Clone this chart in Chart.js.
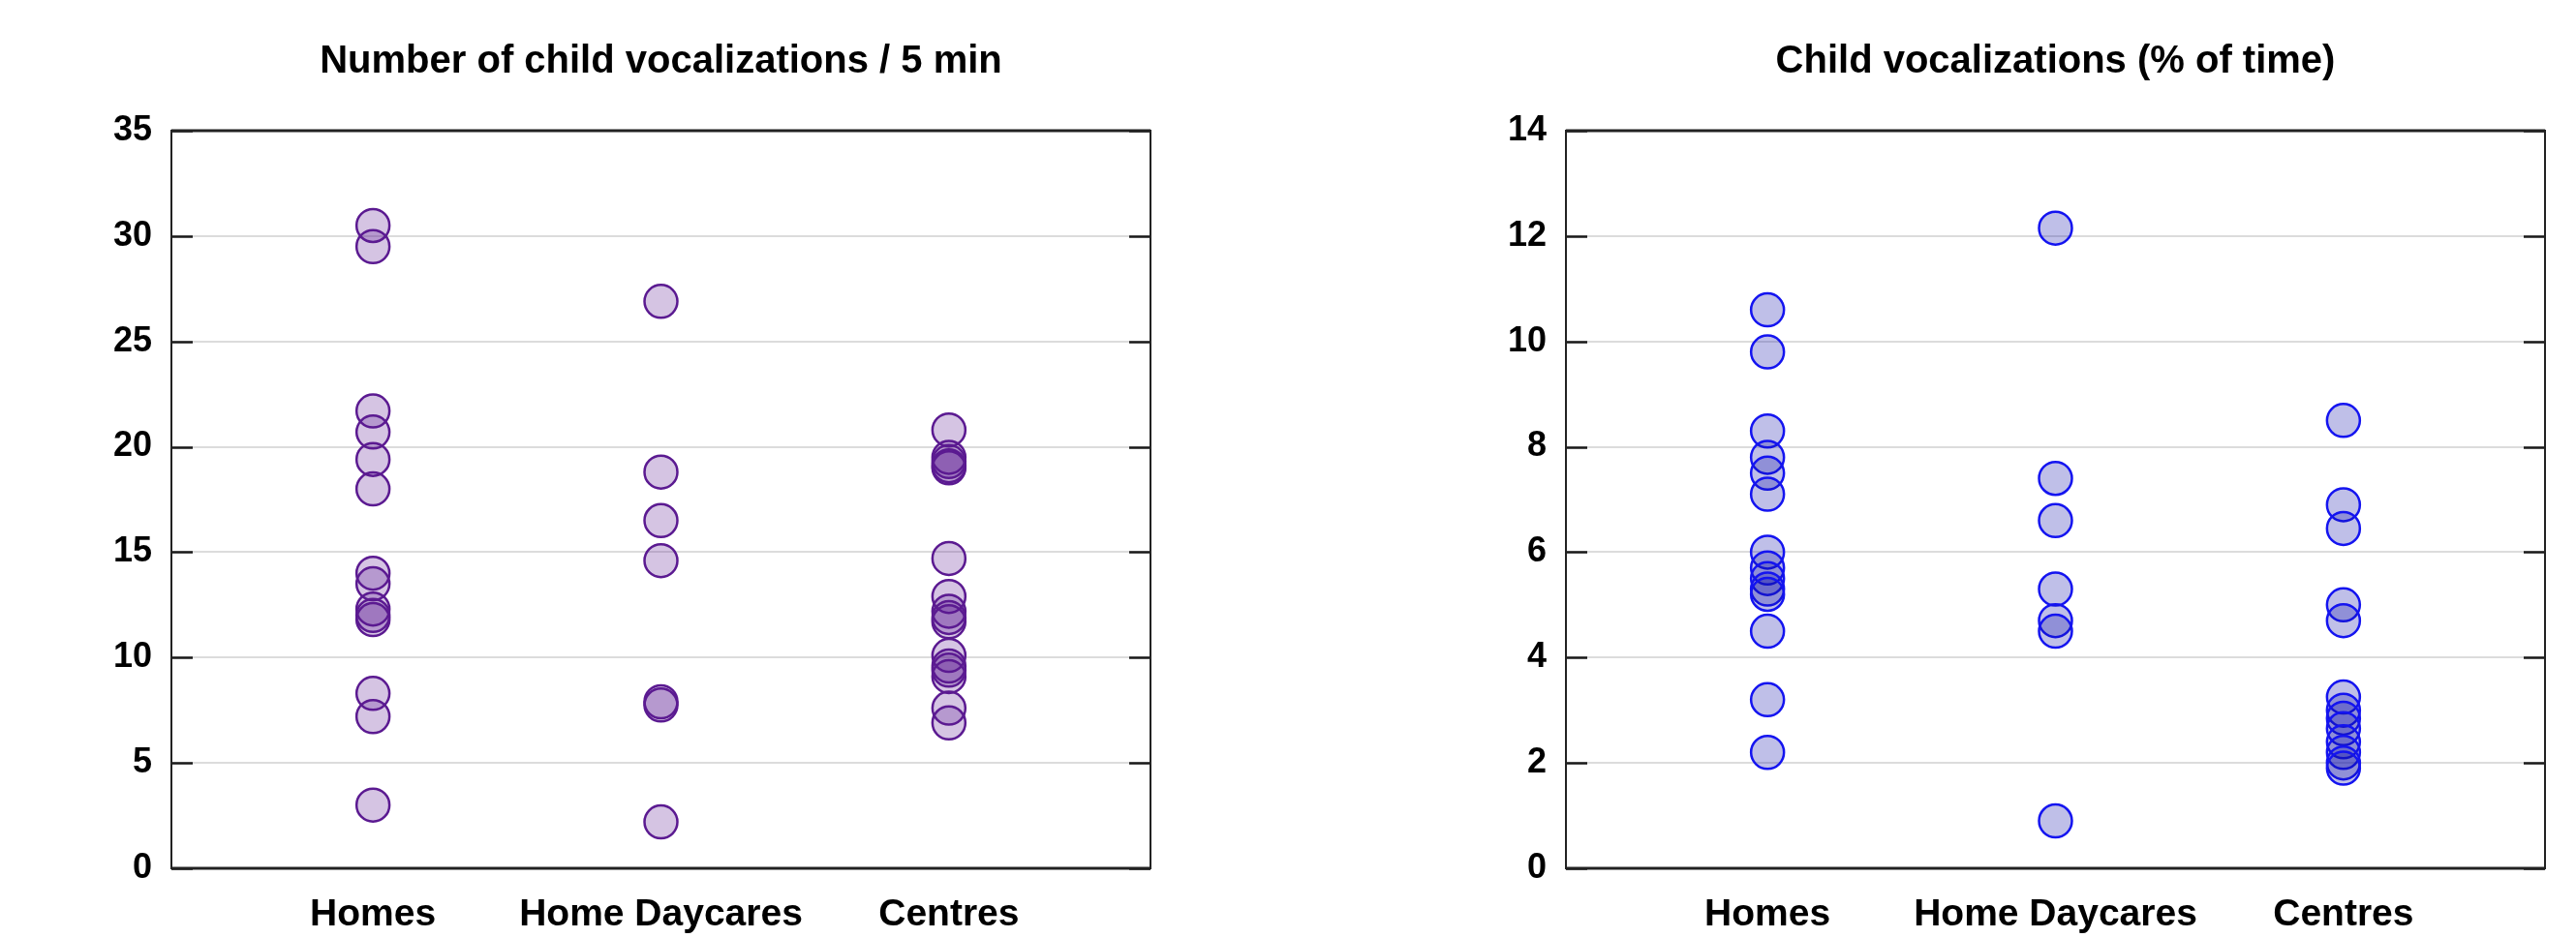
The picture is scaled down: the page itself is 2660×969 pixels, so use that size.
<!DOCTYPE html>
<html>
<head>
<meta charset="utf-8">
<script src="https://cdn.jsdelivr.net/npm/chart.js@4/dist/chart.umd.min.js"></script>
<style>
  html, body { margin: 0; padding: 0; background: #ffffff; }
  #wrap { position: relative; width: 2660px; height: 969px; }
  .panel { position: absolute; top: 0; width: 1330px; height: 969px; }
  #panelA { left: 0; }
  #panelB { left: 1330px; }
</style>
</head>
<body>
<div id="wrap">
  <div class="panel" id="panelA"><canvas id="chartA"></canvas></div>
  <div class="panel" id="panelB"><canvas id="chartB"></canvas></div>
</div>
<script>
// Settings (x positions 1, 2, 3 on the horizontal axis)
const settings = ["Homes", "Home Daycares", "Centres"];

// Number of child vocalizations per 5 minutes
const homesCount    = [30.5, 29.5, 21.7, 20.7, 19.4, 18.0, 14.0, 13.5, 12.3, 12.0, 11.8, 8.3, 7.2, 3.0];
const daycaresCount = [26.9, 18.8, 16.5, 14.6, 7.9, 7.75, 2.2];
const centresCount  = [20.8, 19.5, 19.3, 19.1, 19.0, 14.7, 12.9, 12.2, 11.9, 11.7, 10.1, 9.6, 9.4, 9.1, 7.6, 6.9];

// Child vocalizations as % of time
const homesPct    = [10.6, 9.8, 8.3, 7.8, 7.5, 7.1, 6.0, 5.7, 5.5, 5.3, 5.2, 4.5, 3.2, 2.2];
const daycaresPct = [12.15, 7.4, 6.6, 5.3, 4.7, 4.5, 0.9];
const centresPct  = [8.5, 6.9, 6.45, 5.0, 4.7, 3.25, 3.0, 2.85, 2.65, 2.4, 2.2, 2.0, 1.9];

// Y axis ticks
const countTicks = [0, 5, 10, 15, 20, 25, 30, 35];
const pctTicks   = [0, 2, 4, 6, 8, 10, 12, 14];

const FONT = "'Liberation Sans', Arial, sans-serif";

// Builds scatter points: each group sits at its setting index (1-based)
function toPoints(groups) {
  const pts = [];
  groups.forEach((vals, i) => vals.forEach(v => pts.push({ x: i + 1, y: v })));
  return pts;
}

// Title centred over the plot area
const plotTitlePlugin = {
  id: 'plotTitle',
  afterDraw(chart, args, opts) {
    const { ctx, chartArea: a } = chart;
    ctx.save();
    ctx.fillStyle = '#000';
    ctx.font = "bold 40px " + FONT;
    ctx.textAlign = 'center';
    ctx.textBaseline = 'middle';
    ctx.fillText(opts.text, (a.left + a.right) / 2, 64);
    ctx.restore();
  }
};

// Frame with inward tick marks on both vertical sides
const framePlugin = {
  id: 'frame',
  afterDatasetsDraw(chart) {
    const { ctx, chartArea: a, scales: { y } } = chart;
    ctx.save();
    ctx.strokeStyle = '#1a1a1a';
    ctx.lineWidth = 2.5;
    ctx.beginPath();
    y.ticks.forEach(t => {
      const py = Math.round(y.getPixelForValue(t.value)) + 0.5;
      ctx.moveTo(a.left, py); ctx.lineTo(a.left + 22, py);
      ctx.moveTo(a.right, py); ctx.lineTo(a.right - 22, py);
    });
    ctx.stroke();
    ctx.lineWidth = 2;
    ctx.strokeStyle = '#222';
    ctx.strokeRect(a.left, a.top, a.right - a.left, a.bottom - a.top);
    ctx.lineWidth = 3;
    ctx.beginPath();
    ctx.moveTo(a.left, a.top); ctx.lineTo(a.right, a.top);
    ctx.moveTo(a.left, a.bottom); ctx.lineTo(a.right, a.bottom);
    ctx.stroke();
    ctx.restore();
  }
};

function makeChart(id, title, groups, ticks, stroke, fill, axisLeft, padRight) {
  const yMax = ticks[ticks.length - 1];
  return new Chart(document.getElementById(id), {
    type: 'scatter',
    data: {
      datasets: [{
        data: toPoints(groups),
        pointRadius: 17,
        pointHoverRadius: 17,
        pointBorderWidth: 2.5,
        borderColor: stroke,
        backgroundColor: fill
      }]
    },
    options: {
      responsive: true,
      maintainAspectRatio: false,
      animation: false,
      events: [],
      layout: { padding: { left: 0, right: padRight, top: 135, bottom: 0 } },
      plugins: {
        legend: { display: false },
        tooltip: { enabled: false },
        title: { display: false },
        plotTitle: { text: title }
      },
      scales: {
        x: {
          type: 'linear',
          min: 0.3,
          max: 3.7,
          afterBuildTicks(scale) {
            scale.ticks = settings.map((_, i) => ({ value: i + 1 }));
          },
          afterFit(scale) { scale.height = 969 - 897; },
          grid: { display: false, drawTicks: false },
          border: { display: false },
          ticks: {
            autoSkip: false,
            maxRotation: 0,
            padding: 25,
            color: '#000',
            font: { family: FONT, size: 39, weight: 'bold' },
            callback: v => settings[Math.round(v) - 1] || ''
          }
        },
        y: {
          min: 0,
          max: yMax,
          afterBuildTicks(scale) {
            scale.ticks = ticks.map(v => ({ value: v }));
          },
          afterFit(scale) { scale.width = axisLeft; },
          grid: { color: '#dcdcdc', lineWidth: 2, drawTicks: false },
          border: { display: false },
          ticks: {
            padding: 20,
            color: '#000',
            font: { family: FONT, size: 36, weight: 'bold' }
          }
        }
      }
    },
    plugins: [framePlugin, plotTitlePlugin]
  });
}

makeChart('chartA', 'Number of child vocalizations / 5 min',
  [homesCount, daycaresCount, centresCount], countTicks,
  '#5b1a91', 'rgba(91, 26, 145, 0.26)', 177, 142);

makeChart('chartB', 'Child vocalizations (% of time)',
  [homesPct, daycaresPct, centresPct], pctTicks,
  '#1414f0', 'rgba(20, 20, 170, 0.27)', 287, 32);
</script>
</body>
</html>
